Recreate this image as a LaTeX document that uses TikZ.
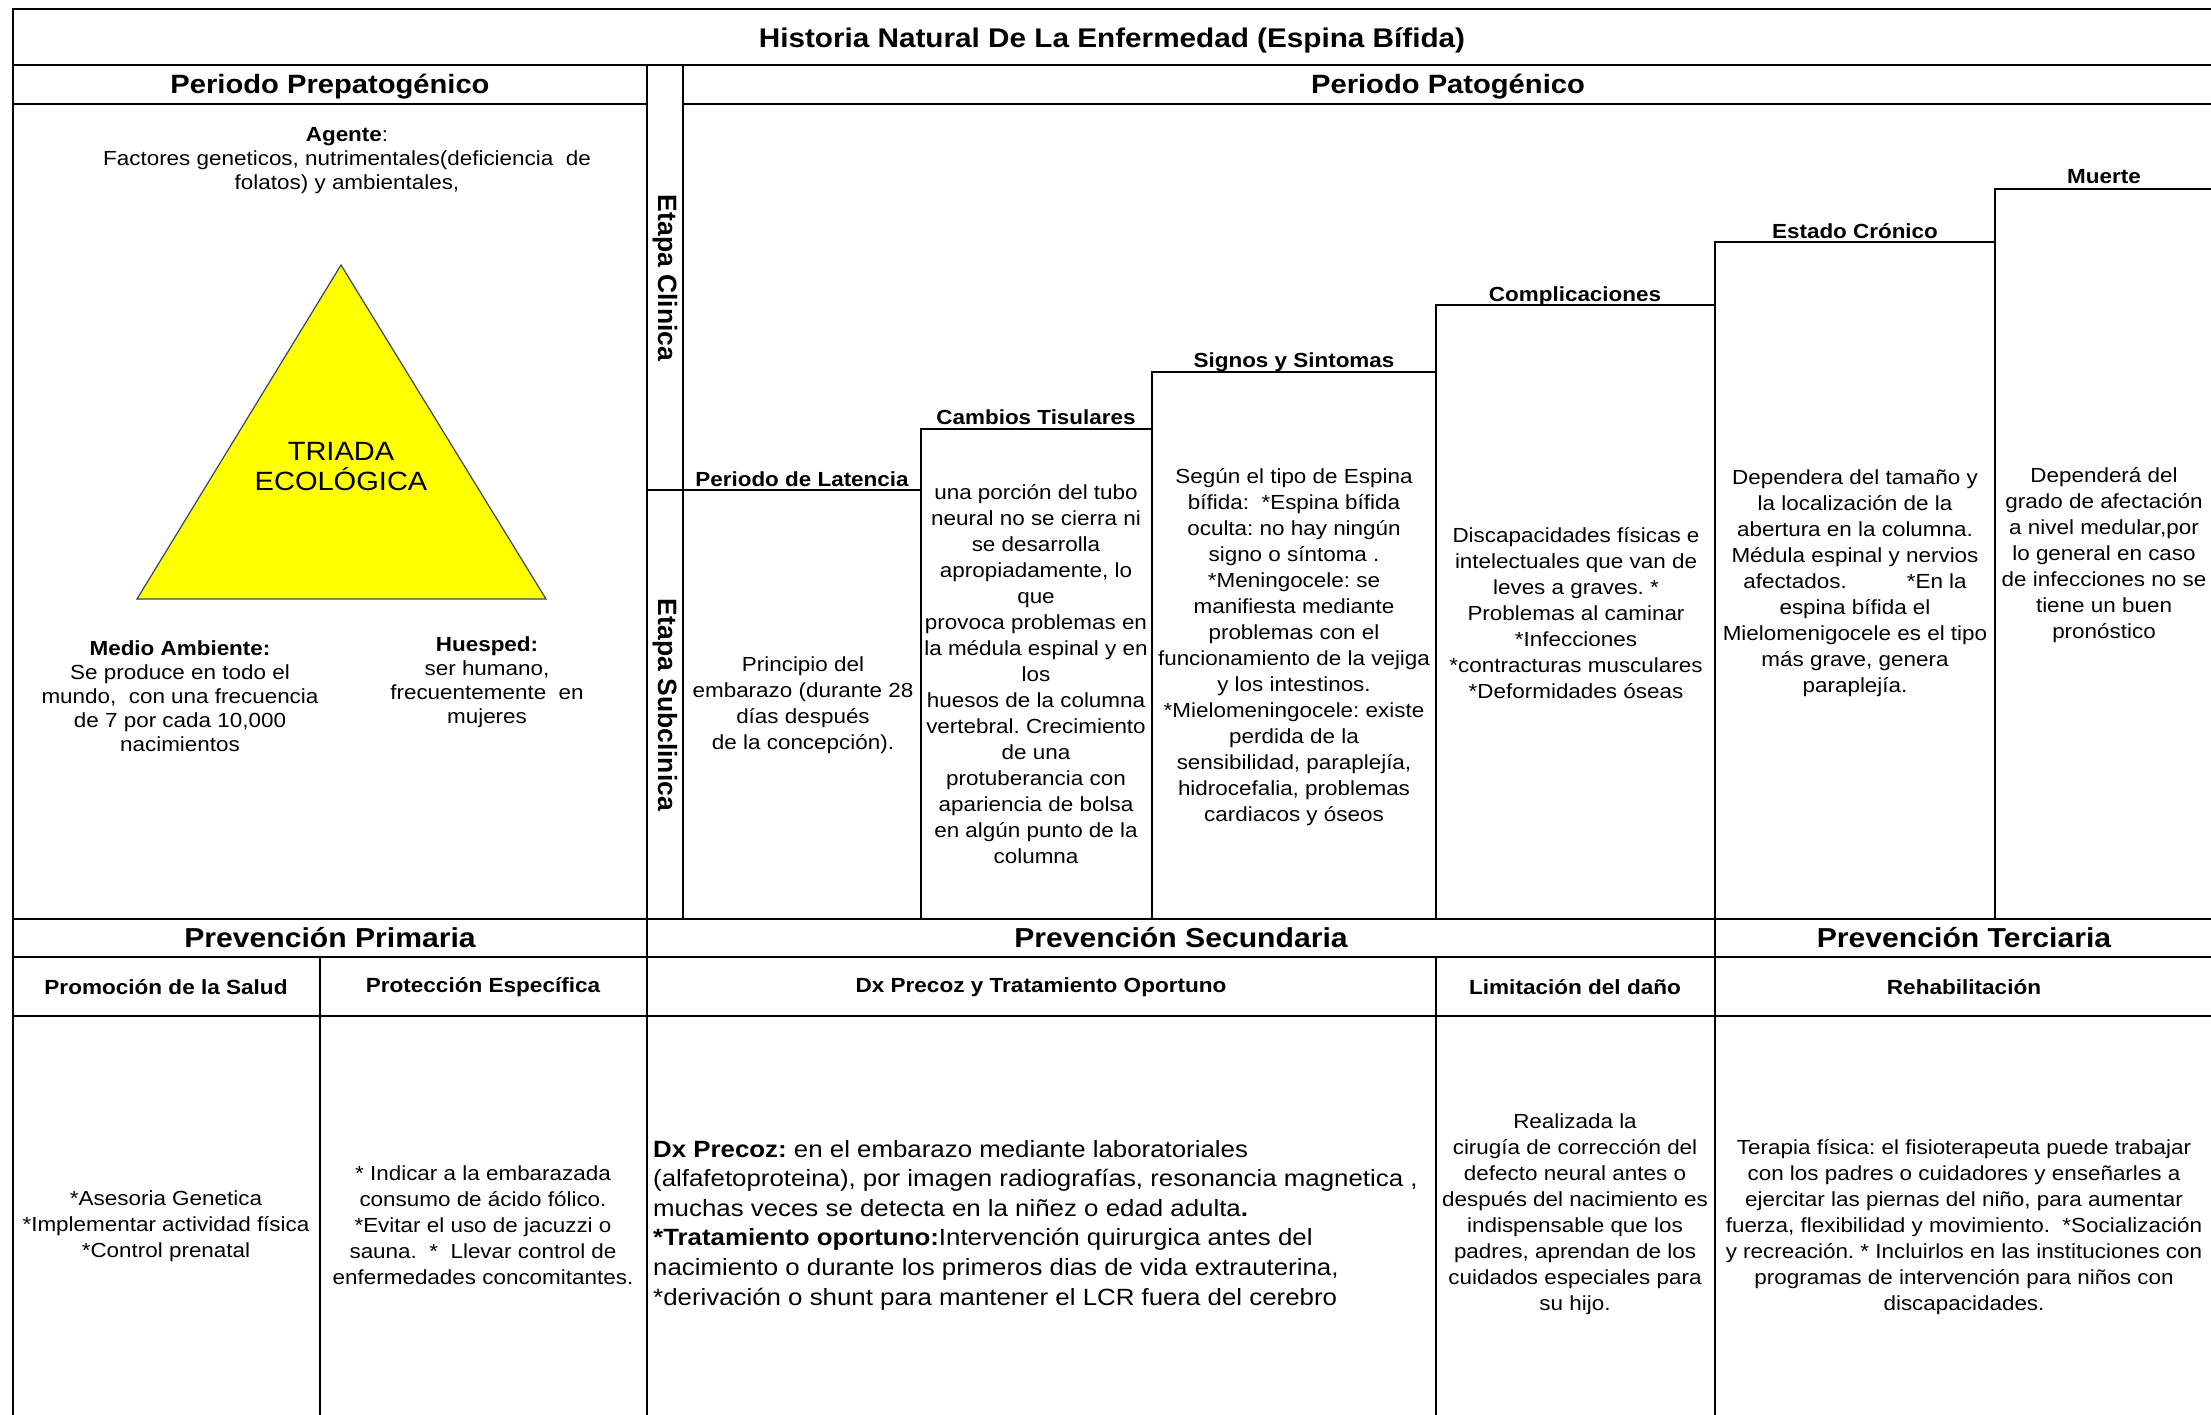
\documentclass[tikz,border=0pt]{standalone}
\usepackage{fontspec}
\setmainfont{Liberation Sans}[FakeStretch=1.1]
\newfontfamily\sidefont{Liberation Sans}
\definecolor{triyellow}{RGB}{255,255,0}
\definecolor{triedge}{RGB}{56,70,100}
\frenchspacing

\begin{document}
\begin{tikzpicture}[x=1pt,y=-1pt,
  rule/.style={line width=2pt,line cap=rect},
  maintitle/.style={inner sep=0pt,font=\fontsize{27}{32}\selectfont\bfseries},
  period/.style={inner sep=0pt,font=\fontsize{26.5}{32}\selectfont\bfseries},
  prevhead/.style={inner sep=0pt,font=\fontsize{27.4}{32}\selectfont\bfseries},
  subhead/.style={inner sep=0pt,font=\fontsize{20.5}{25}\selectfont\bfseries},
  stagehead/.style={inner sep=0pt,font=\fontsize{20.4}{25}\selectfont\bfseries},
  body/.style={inner sep=0pt,align=center,font=\fontsize{20.4}{26}\selectfont},
  sidelabel/.style={inner sep=0pt,rotate=-90,font=\sidefont\fontsize{26.5}{30}\selectfont\bfseries},
]
\useasboundingbox (0,0) rectangle (2211,1415);
\clip (0,0) rectangle (2211,1415);
\fill[white] (0,0) rectangle (2211,1415);

% ---------- table rules ----------
\draw[rule] (13,9) rectangle (2213,1434);
\draw[rule] (13,65) -- (2213,65);
\draw[rule] (13,104) -- (647,104);
\draw[rule] (683,104) -- (2213,104);
\draw[rule] (13,919) -- (2213,919);
\draw[rule] (13,957) -- (2213,957);
\draw[rule] (13,1016) -- (2213,1016);
\draw[rule] (647,65) -- (647,1434);
\draw[rule] (683,65) -- (683,919);
\draw[rule] (647,490) -- (683,490);
% staircase of the pathogenic period
\draw[rule] (683,490) -- (921,490) -- (921,429) -- (1152,429) -- (1152,372)
  -- (1436,372) -- (1436,305) -- (1715,305) -- (1715,242) -- (1995,242)
  -- (1995,189) -- (2213,189);
\draw[rule] (921,429) -- (921,919);
\draw[rule] (1152,372) -- (1152,919);
\draw[rule] (1436,305) -- (1436,919);
\draw[rule] (1715,242) -- (1715,1434);
\draw[rule] (1995,189) -- (1995,919);
% prevention columns
\draw[rule] (320,957) -- (320,1434);
\draw[rule] (1436,957) -- (1436,1434);

% ---------- headers ----------
\node[maintitle] (title) at (1112,40) {Historia Natural De La Enfermedad (Espina Bífida)};
\node[period] (prepat) at (330,87) {Periodo Prepatogénico};
\node[period] (pat) at (1448,87) {Periodo Patogénico};
\node[sidelabel] (clinica) at (665,278) {Etapa Clinica};
\node[sidelabel] (subclinica) at (665,705) {Etapa Subclinica};

% ---------- ecological triad ----------
\node[body,font=\fontsize{20.4}{24}\selectfont] (agente) at (347,161)
  {\textbf{Agente}:\\ Factores geneticos, nutrimentales(deficiencia~ de\\ folatos) y ambientales,};
\coordinate (apex) at (341,265);
\coordinate (baseL) at (137,599);
\coordinate (baseR) at (546,599);
\filldraw[fill=triyellow,draw=triedge,line width=1.2pt] (apex) -- (baseR) -- (baseL) -- cycle;
\node[body,font=\fontsize{26.4}{30}\selectfont] (triada) at (341,467) {TRIADA\\ECOLÓGICA};
\node[body,font=\fontsize{20.4}{24}\selectfont] (medio) at (180,696)
  {\textbf{Medio Ambiente:}\\ Se produce en todo el\\ mundo,~ con una frecuencia\\ de 7 por cada 10,000\\ nacimientos};
\node[body,font=\fontsize{20.4}{24}\selectfont] (huesped) at (487,682)
  {\textbf{Huesped:}\\ ser humano,\\ frecuentemente~ en\\ mujeres};

% ---------- stages ----------
\node[stagehead] (hlat) at (802,479) {Periodo de Latencia};
\node[body] (tlat) at (803,705)
  {Principio del\\ embarazo (durante 28\\ días después\\ de la concepción).};
\node[stagehead] (hcam) at (1036,417) {Cambios Tisulares};
\node[body] (tcam) at (1036,674)
  {una porción del tubo\\ neural no se cierra ni\\ se desarrolla\\ apropiadamente, lo\\ que\\
   provoca problemas en\\ la médula espinal y en\\ los\\ huesos de la columna\\
   vertebral. Crecimiento\\ de una\\ protuberancia con\\ apariencia de bolsa\\
   en algún punto de la\\ columna};
\node[stagehead] (hsig) at (1294,362) {Signos y Sintomas};
\node[body] (tsig) at (1294,647)
  {Según el tipo de Espina\\ bífida:~ *Espina bífida\\ oculta: no hay ningún\\ signo o síntoma .\\
   *Meningocele: se\\ manifiesta mediante\\ problemas con el\\ funcionamiento de la vejiga\\
   y los intestinos.\\ *Mielomeningocele: existe\\ perdida de la\\ sensibilidad, paraplejía,\\
   hidrocefalia, problemas\\ cardiacos y óseos};
\node[stagehead] (hcom) at (1575,296) {Complicaciones};
\node[body] (tcom) at (1576,613)
  {Discapacidades físicas e\\ intelectuales que van de\\ leves a graves. *\\ Problemas al caminar\\
   *Infecciones\\ *contracturas musculares\\ *Deformidades óseas};
\node[stagehead] (hest) at (1855,231) {Estado Crónico};
\node[body] (test) at (1855,583)
  {Dependera del tamaño y\\ la localización de la\\ abertura en la columna.\\ Médula espinal y nervios\\
   afectados.\hspace{60pt}*En la\\ espina bífida el\\ Mielomenigocele es el tipo\\ más grave, genera\\ paraplejía.};
\node[stagehead] (hmue) at (2104,177) {Muerte};
\node[body] (tmue) at (2104,555)
  {Dependerá del\\ grado de afectación\\ a nivel medular,por\\ lo general en caso\\
   de infecciones no se\\ tiene un buen\\ pronóstico};

% ---------- prevention ----------
\node[prevhead] (prim) at (330,938) {Prevención Primaria};
\node[prevhead] (sec) at (1181,938) {Prevención Secundaria};
\node[prevhead] (ter) at (1964,938) {Prevención Terciaria};
\node[subhead] (hprom) at (166,987) {Promoción de la Salud};
\node[subhead] (hprot) at (483,987) {Protección Específica};
\node[subhead] (hdx) at (1041,987) {Dx Precoz y Tratamiento Oportuno};
\node[subhead] (hlim) at (1575,987) {Limitación del daño};
\node[subhead] (hreh) at (1964,987) {Rehabilitación};

\node[body] (tprom) at (166,1226)
  {*Asesoria Genetica\\ *Implementar actividad física\\ *Control prenatal};
\node[body] (tprot) at (483,1225)
  {* Indicar a la embarazada\\ consumo de ácido fólico.\\ *Evitar el uso de jacuzzi o\\
   sauna.~ *~ Llevar control de\\ enfermedades concomitantes.};
\node[body,align=left,anchor=west,font=\fontsize{23.5}{29.6}\selectfont] (tdx) at (653,1225)
  {\textbf{Dx Precoz:} en el embarazo mediante laboratoriales\\
   (alfafetoproteina), por imagen radiografías, resonancia magnetica ,\\
   muchas veces se detecta en la niñez o edad adulta\textbf{.}\\
   \textbf{*Tratamiento oportuno:}Intervención quirurgica antes del\\
   nacimiento o durante los primeros dias de vida extrauterina,\\
   *derivación o shunt para mantener el LCR fuera del cerebro};
\node[body] (tlim) at (1575,1214)
  {Realizada la\\ cirugía de corrección del\\ defecto neural antes o\\ después del nacimiento es\\
   indispensable que los\\ padres, aprendan de los\\ cuidados especiales para\\ su hijo.};
\node[body] (treh) at (1964,1227)
  {Terapia física: el fisioterapeuta puede trabajar\\ con los padres o cuidadores y enseñarles a\\
   ejercitar las piernas del niño, para aumentar\\ fuerza, flexibilidad y movimiento.~ *Socialización\\
   y recreación. * Incluirlos en las instituciones con\\ programas de intervención para niños con\\ discapacidades.};
\end{tikzpicture}
\end{document}
